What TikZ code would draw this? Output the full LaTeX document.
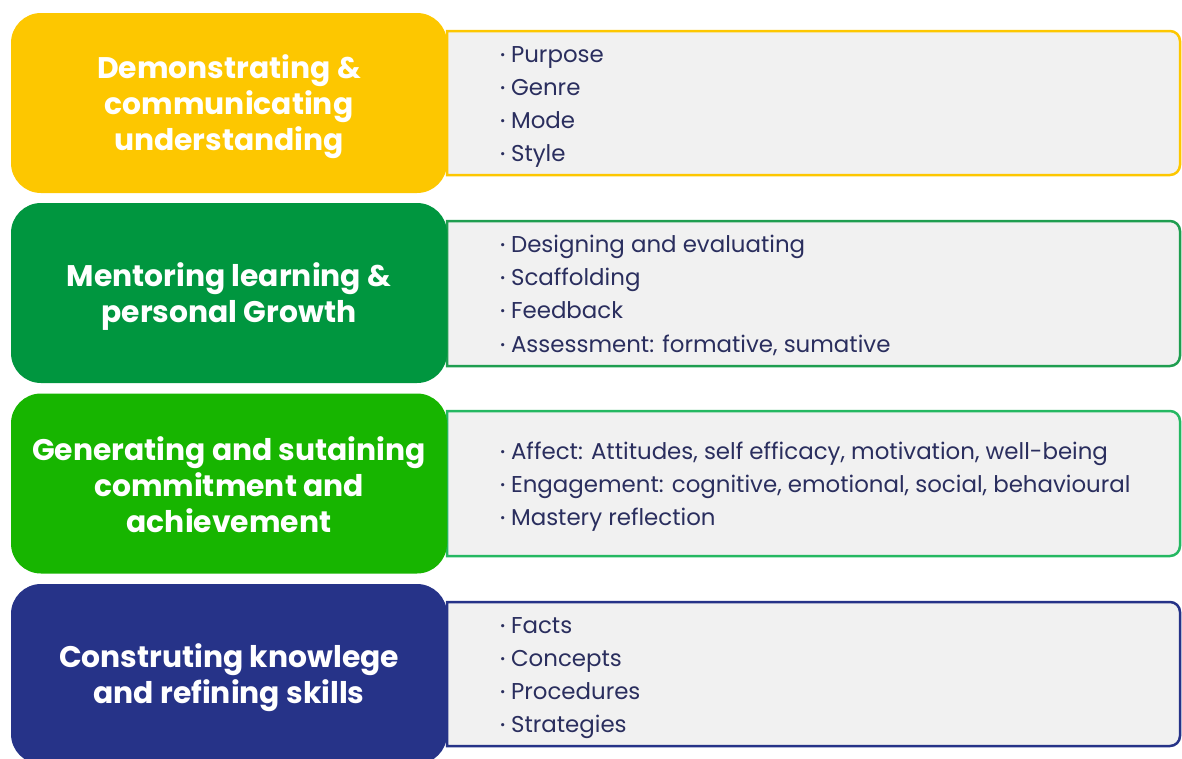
\documentclass[tikz,border=0pt]{standalone}
\usepackage{fontspec}
\setmainfont{Poppins}
\definecolor{cyel}{HTML}{FDC700}
\definecolor{cdgreen}{HTML}{00963F}
\definecolor{cbgreen}{HTML}{17B500}
\definecolor{cnavy}{HTML}{263388}
\definecolor{bdgreen}{HTML}{1F9E50}
\definecolor{bbgreen}{HTML}{25B862}
\definecolor{cpanel}{HTML}{F1F1F1}
\definecolor{ctext}{HTML}{2A2E5E}
\tikzset{
  catbox/.style={rectangle, rounded corners=30pt, minimum width=436pt, minimum height=180pt,
    text=white, align=center, inner sep=0pt, font=\fontsize{29.8}{36}\selectfont\bfseries},
  cattext/.style={text=white, align=center, inner sep=0pt, font=\fontsize{29.8}{36}\selectfont\bfseries},
  panel/.style={fill=cpanel, line width=2.5pt},
  item/.style={anchor=base west, inner sep=0pt, text=ctext, font=\fontsize{22.9}{26}\selectfont},
}
\newcommand{\bul}{{\fontsize{13}{13}\selectfont\raisebox{2.8pt}{•}}\hspace{5.5pt}}
\begin{document}
\begin{tikzpicture}[x=1pt,y=-1pt]
\useasboundingbox (0,0) rectangle (1182,758);
\clip (0,0) rectangle (1182,758);
% panels
\draw[panel, draw=cyel] (447,31) [rounded corners=10pt] -- (1180,31) -- (1180,175) [sharp corners] -- (447,175) -- cycle;
\draw[panel, draw=bdgreen] (447,221) [rounded corners=10pt] -- (1180,221) -- (1180,366) [sharp corners] -- (447,366) -- cycle;
\draw[panel, draw=bbgreen] (447,411) [rounded corners=10pt] -- (1180,411) -- (1180,556) [sharp corners] -- (447,556) -- cycle;
\draw[panel, draw=cnavy] (447,602) [rounded corners=10pt] -- (1180,602) -- (1180,746) [sharp corners] -- (447,746) -- cycle;
% category boxes
\node[catbox, fill=cyel] (c1) at (229,103) {};
\node[catbox, fill=cdgreen] (c2) at (229,293) {};
\node[catbox, fill=cbgreen] (c3) at (229,483.5) {};
\node[catbox, fill=cnavy] (c4) at (229,674) {};
\node[cattext] (t1) at ([yshift=-3.5pt]c1.center) {Demonstrating \&\\communicating\\understanding};
\node[cattext] (t2) at ([yshift=-3.5pt]c2.center) {Mentoring learning \&\\personal Growth};
\node[cattext] (t3) at ([yshift=-1pt]c3.center) {Generating and sutaining\\commitment and\\achievement};
\node[cattext] (t4) at ([yshift=-4pt]c4.center) {Construting knowlege\\and refining skills};
% items
\node[item] (a1) at (500,62) {\bul Purpose};
\node[item] (a2) at (500,95) {\bul Genre};
\node[item] (a3) at (500,128) {\bul Mode};
\node[item] (a4) at (500,161) {\bul Style};
\node[item] (b1) at (500,252) {\bul Designing and evaluating};
\node[item] (b2) at (500,285) {\bul Scaffolding};
\node[item] (b3) at (500,318) {\bul Feedback};
\node[item] (b4) at (500,352) {\bul Assessment: formative, sumative};
\node[item] (d1) at (500,459) {\bul Affect: Attitudes, self efficacy, motivation, well-being};
\node[item] (d2) at (500,492) {\bul Engagement: cognitive, emotional, social, behavioural};
\node[item] (d3) at (500,525) {\bul Mastery reflection};
\node[item] (e1) at (500,633) {\bul Facts};
\node[item] (e2) at (500,666) {\bul Concepts};
\node[item] (e3) at (500,699) {\bul Procedures};
\node[item] (e4) at (500,732) {\bul Strategies};
\end{tikzpicture}
\end{document}
